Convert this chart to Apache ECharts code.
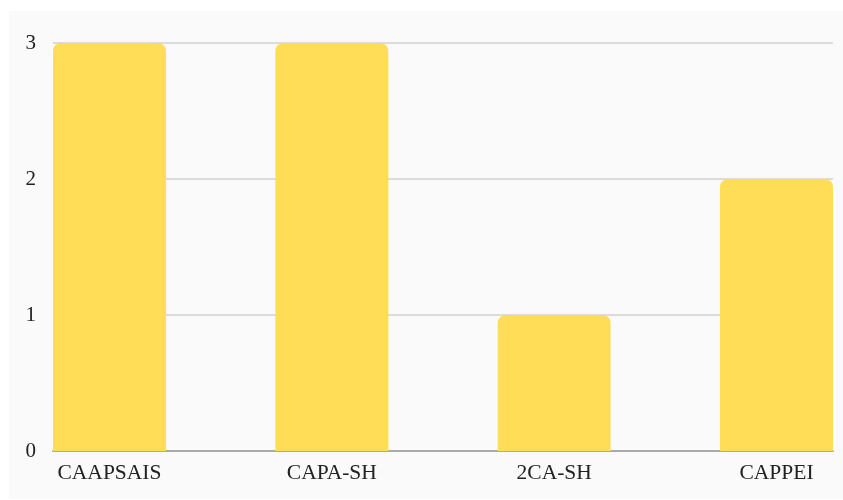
<!DOCTYPE html>
<html>
<head>
<meta charset="utf-8">
<script src="https://cdn.jsdelivr.net/npm/echarts@6/dist/echarts.min.js"></script>
<style>
html,body{margin:0;padding:0;background:#fff;}
#c{width:843px;height:500px;}
</style>
</head>
<body>
<div id="c"></div>
<script>
var categories = ['CAAPSAIS', 'CAPA-SH', '2CA-SH', 'CAPPEI'];
var values = [3, 3, 1, 2];
var yTicks = [0, 1, 2, 3];

var chart = echarts.init(document.getElementById('c'), null, {renderer: 'canvas'});
var font = 'Liberation Serif';
chart.setOption({
  backgroundColor: '#ffffff',
  animation: false,
  graphic: [{
    type: 'rect', z: -10, silent: true,
    shape: {x: 9, y: 11, width: 834, height: 488},
    style: {fill: '#fafafa'}
  }],
  grid: {left: 53, right: 10, top: 43, bottom: 49, containLabel: false},
  xAxis: {
    type: 'value',
    min: -0.254,
    max: 3.254,
    splitNumber: 3,
    splitLine: {show: false},
    axisTick: {show: false},
    axisLine: {show: true, lineStyle: {color: '#aaaaaa', width: 2}},
    axisLabel: {
      showMinLabel: false, showMaxLabel: false,
      margin: 11,
      color: '#222',
      fontFamily: font,
      fontSize: 21.5,
      formatter: function (v) {
        var i = Math.round(v);
        return (Math.abs(v - i) < 1e-6 && categories[i] !== undefined) ? categories[i] : '';
      }
    }
  },
  yAxis: {
    type: 'value',
    min: yTicks[0],
    max: yTicks[yTicks.length - 1],
    interval: 1,
    axisLine: {show: false},
    axisTick: {show: false},
    splitLine: {lineStyle: {color: '#d0d0d0', width: 1.5}},
    axisLabel: {margin: 17, color: '#222', fontFamily: font, fontSize: 21}
  },
  series: [{
    type: 'bar',
    barWidth: 113,
    data: categories.map(function (c, i) { return [i, values[i]]; }),
    itemStyle: {color: '#ffdd57', borderRadius: [8, 8, 0, 0]}
  }]
});
</script>
</body>
</html>
